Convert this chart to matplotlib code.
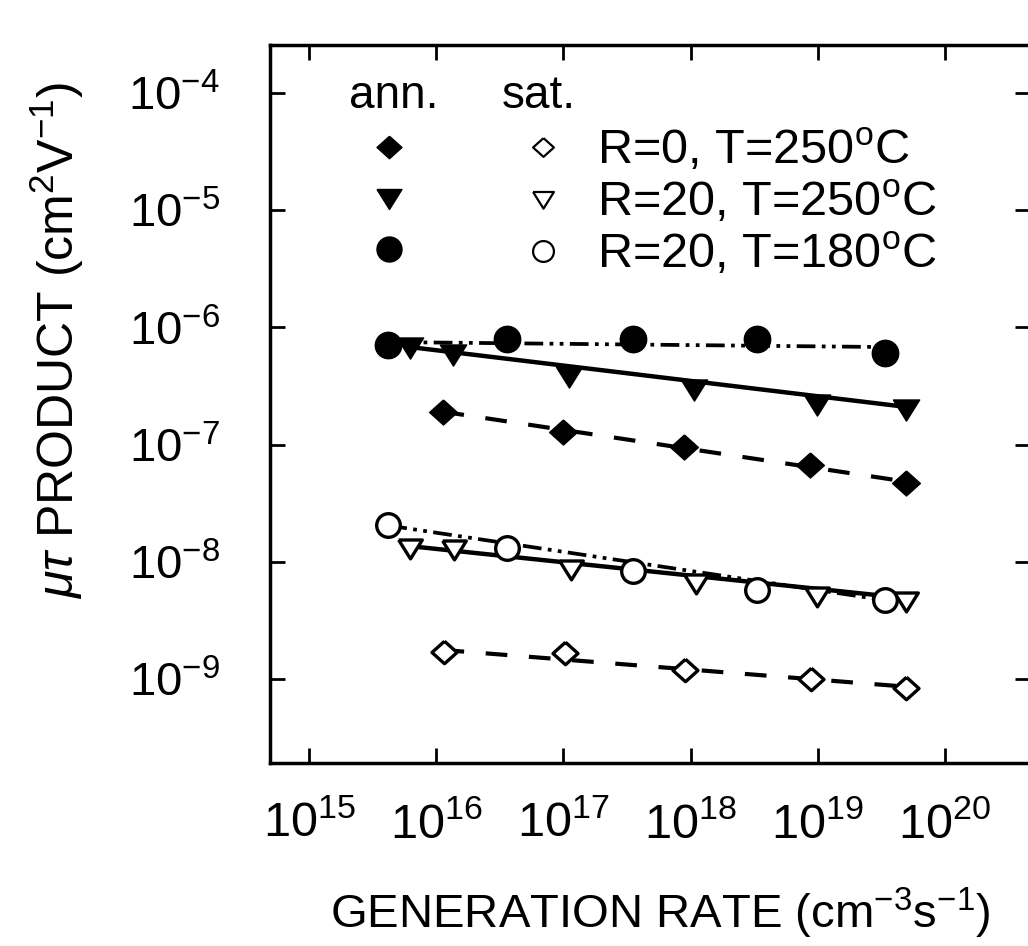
import matplotlib
matplotlib.use("Agg")
import matplotlib.pyplot as plt
from matplotlib.lines import Line2D
from matplotlib.ticker import NullLocator

plt.rcParams['font.family'] = ['Liberation Sans', 'DejaVu Sans']
plt.rcParams['mathtext.fontset'] = 'custom'
plt.rcParams['mathtext.rm'] = 'Liberation Sans'
plt.rcParams['mathtext.it'] = 'Liberation Sans:italic'

# annealed (filled symbols)
ann_r0_t250_x = [1.12e16, 1.0e17, 8.9e17, 8.7e18, 4.9e19]
ann_r0_t250_y = [1.90e-7, 1.28e-7, 9.5e-8, 6.7e-8, 4.7e-8]
ann_r20_t250_x = [6.2e15, 1.35e16, 1.1e17, 1.07e18, 9.8e18, 4.9e19]
ann_r20_t250_y = [6.8e-7, 5.9e-7, 3.85e-7, 3.0e-7, 2.2e-7, 2.0e-7]
ann_r20_t180_x = [4.2e15, 3.6e16, 3.5e17, 3.3e18, 3.4e19]
ann_r20_t180_y = [7.1e-7, 8.0e-7, 8.0e-7, 7.9e-7, 6.0e-7]

# saturated (open symbols)
sat_r0_t250_x = [1.15e16, 1.02e17, 9.1e17, 8.9e18, 4.9e19]
sat_r0_t250_y = [1.70e-9, 1.67e-9, 1.19e-9, 1.0e-9, 8.4e-10]
sat_r20_t250_x = [6.2e15, 1.38e16, 1.15e17, 1.1e18, 9.8e18, 4.9e19]
sat_r20_t250_y = [1.32e-8, 1.29e-8, 8.7e-9, 6.6e-9, 5.1e-9, 4.6e-9]
sat_r20_t180_x = [4.2e15, 3.6e16, 3.5e17, 3.3e18, 3.4e19]
sat_r20_t180_y = [2.06e-8, 1.30e-8, 8.4e-9, 5.8e-9, 4.7e-9]

# fitted lines (end points)
fit_ann_r0_x = [1.12e16, 4.9e19]
fit_ann_r0_y = [1.91e-7, 4.84e-8]
fit_ann_r20_t250_x = [6.2e15, 4.9e19]
fit_ann_r20_t250_y = [6.8e-7, 2.1e-7]
fit_ann_r20_t180_x = [4.2e15, 3.4e19]
fit_ann_r20_t180_y = [7.5e-7, 6.8e-7]
fit_sat_r0_x = [1.12e16, 4.9e19]
fit_sat_r0_y = [1.77e-9, 8.6e-10]
fit_sat_r20_t250_x = [6.2e15, 4.9e19]
fit_sat_r20_t250_y = [1.36e-8, 4.9e-9]
fit_sat_r20_t180_x = [4.2e15, 3.4e19]
fit_sat_r20_t180_y = [2.04e-8, 4.7e-9]

legend_labels = ['R=0, T=250$^{\\mathrm{o}}$C',
                 'R=20, T=250$^{\\mathrm{o}}$C',
                 'R=20, T=180$^{\\mathrm{o}}$C']

x_ticks = [1e15, 1e16, 1e17, 1e18, 1e19, 1e20]
y_ticks = [1e-9, 1e-8, 1e-7, 1e-6, 1e-5, 1e-4]

diamond = [(0, 0.9), (1, 0), (0, -0.9), (-1, 0), (0, 0.9)]
tri_down = [(-1, 0.72), (1, 0.72), (0, -0.88), (-1, 0.72)]

dashed = (0, (5.2, 5.2))
dashdotdot = (0, (5.0, 1.7, 1.0, 1.7, 1.0, 1.7))

fig = plt.figure(figsize=(10.28, 9.46), dpi=100)
ax = fig.add_axes([270 / 1028, 1 - 763 / 946, 760 / 1028, 718 / 946])
ax.set_xscale('log')
ax.set_yscale('log')

# fit lines
ax.plot(fit_ann_r0_x, fit_ann_r0_y, color='black', lw=3.0, linestyle=dashed)
ax.plot(fit_ann_r20_t250_x, fit_ann_r20_t250_y, color='black', lw=3.2)
ax.plot(fit_ann_r20_t180_x, fit_ann_r20_t180_y, color='black', lw=2.7, linestyle=dashdotdot)
ax.plot(fit_sat_r0_x, fit_sat_r0_y, color='black', lw=3.0, linestyle=dashed)
ax.plot(fit_sat_r20_t250_x, fit_sat_r20_t250_y, color='black', lw=3.2)
ax.plot(fit_sat_r20_t180_x, fit_sat_r20_t180_y, color='black', lw=2.7, linestyle=dashdotdot)

# data points
ax.plot(ann_r0_t250_x, ann_r0_t250_y, linestyle='none', marker=diamond, ms=20,
        mfc='black', mec='black')
ax.plot(ann_r20_t250_x, ann_r20_t250_y, linestyle='none', marker=tri_down, ms=19,
        mfc='black', mec='black')
ax.plot(ann_r20_t180_x, ann_r20_t180_y, linestyle='none', marker='o', ms=19,
        mfc='black', mec='black')
ax.plot(sat_r0_t250_x, sat_r0_t250_y, linestyle='none', marker=diamond, ms=18,
        mfc='white', mec='black', mew=2.4)
ax.plot(sat_r20_t250_x, sat_r20_t250_y, linestyle='none', marker=tri_down, ms=17,
        mfc='white', mec='black', mew=2.4)
ax.plot(sat_r20_t180_x, sat_r20_t180_y, linestyle='none', marker='o', ms=17,
        mfc='white', mec='black', mew=2.4)

ax.set_xlim(10 ** 14.693, 10 ** 20.668)
ax.set_ylim(10 ** -9.717, 10 ** -3.590)
ax.set_xticks(x_ticks)
ax.set_yticks(y_ticks)
ax.xaxis.set_minor_locator(NullLocator())
ax.yaxis.set_minor_locator(NullLocator())
ax.tick_params(axis='both', which='major', direction='in', length=10.5, width=2,
               top=True, right=True, color='black')
ax.tick_params(axis='x', labelsize=35, pad=28)
ax.tick_params(axis='y', labelsize=34, pad=36)
for s in ax.spines.values():
    s.set_linewidth(2.5)

# legend: filled column (annealed) and open column (saturated)
handles = []
for mk in (diamond, tri_down, 'o'):
    handles.append(Line2D([], [], linestyle='none', marker=mk, ms=18,
                          mfc='black', mec='black'))
for mk in (diamond, tri_down, 'o'):
    handles.append(Line2D([], [], linestyle='none', marker=mk, ms=15,
                          mfc='white', mec='black', mew=1.6))
ax.legend(handles, ['', '', ''] + legend_labels, ncol=2, loc='upper left',
          bbox_to_anchor=(0.124, 0.885), frameon=False, fontsize=35,
          handlelength=1.0, handletextpad=0.62, columnspacing=1.55,
          labelspacing=0.12, borderpad=0, borderaxespad=0)
ax.text(0.163, 0.912, 'ann.', transform=ax.transAxes, fontsize=33,
        ha='center', va='baseline')
ax.text(0.354, 0.912, 'sat.', transform=ax.transAxes, fontsize=33,
        ha='center', va='baseline')

fig.text(57 / 1028, 1 - 340 / 946, '$\\mu\\tau$ PRODUCT (cm$^{2}$V$^{-1}$)',
         rotation=90, ha='center', va='center', fontsize=36)
fig.text(660 / 1028, 1 - 928 / 946, 'GENERATION RATE (cm$^{-3}$s$^{-1}$)',
         ha='center', va='baseline', fontsize=34)

fig.savefig('out.png', dpi=100)
plt.close(fig)
